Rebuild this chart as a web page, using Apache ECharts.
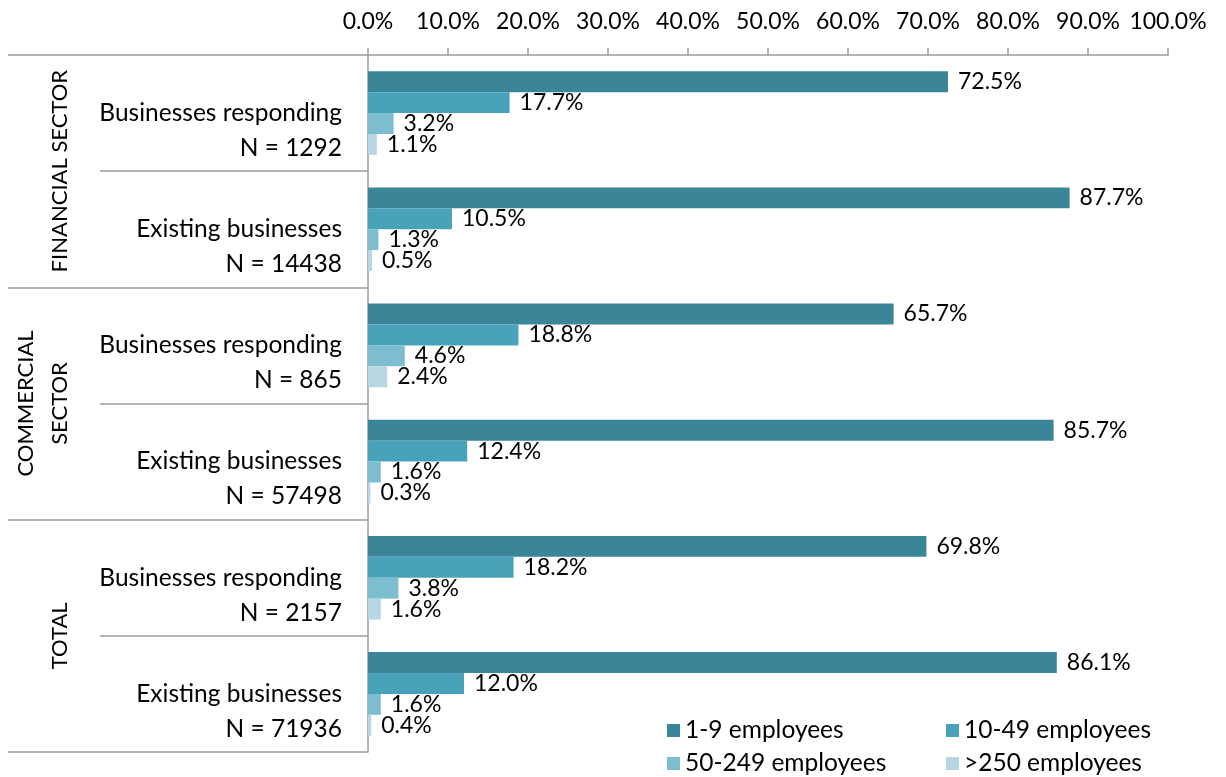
<!DOCTYPE html>
<html>
<head>
<meta charset="utf-8">
<title>Businesses by size class</title>
<script src="https://cdn.jsdelivr.net/npm/echarts@6/dist/echarts.min.js"></script>
<style>
  html, body { margin: 0; padding: 0; background: #fff; }
  #chart { width: 1226px; height: 777px; }
</style>
</head>
<body>
<div id="chart"></div>
<script>
// Row groups (outer level) and rows (inner level)
const sectors = ['FINANCIAL SECTOR', 'COMMERCIAL\nSECTOR', 'TOTAL'];
const rowNames = ['Businesses responding', 'Existing businesses',
                  'Businesses responding', 'Existing businesses',
                  'Businesses responding', 'Existing businesses'];
const rowN = [1292, 14438, 865, 57498, 2157, 71936];

// Share of businesses by size class, in percent
const seriesNames = ['1-9 employees', '10-49 employees', '50-249 employees', '>250 employees'];
const emp1to9    = [72.5, 87.7, 65.7, 85.7, 69.8, 86.1];
const emp10to49  = [17.7, 10.5, 18.8, 12.4, 18.2, 12.0];
const emp50to249 = [3.2, 1.3, 4.6, 1.6, 3.8, 1.6];
const emp250plus = [1.1, 0.5, 2.4, 0.3, 1.6, 0.4];

const colors = ['#3a8698', '#48a3ba', '#7dbdd0', '#b6d7e2'];
const FONT = 'Lato';
const FS_NUM = 23;   // percentages
const FS_TXT = 24.5; // row names and legend
const GRID = '#9c9c9c';

const rowLabels = rowNames.map((n, i) => n + '\nN = ' + rowN[i]);
const values = [emp1to9, emp10to49, emp50to249, emp250plus];

const legendStyle = {
  orient: 'vertical', top: 718, padding: 0,
  itemWidth: 13, itemHeight: 13, itemGap: 8, icon: 'rect',
  textStyle: { color: '#000', fontSize: FS_TXT, fontFamily: FONT }
};

const chart = echarts.init(document.getElementById('chart'));
chart.setOption({
  animation: false,
  textStyle: { fontFamily: FONT },
  grid: { left: 368, right: 58, top: 55, bottom: 25, containLabel: false },
  xAxis: {
    type: 'value', position: 'top', min: 0, max: 100, interval: 10,
    axisLine: { show: true, lineStyle: { color: GRID, width: 1.5 } },
    axisTick: { show: true, length: 7, lineStyle: { color: GRID, width: 1.5 } },
    splitLine: { show: false },
    axisLabel: { formatter: v => v.toFixed(1) + '%', color: '#000', fontSize: FS_NUM, fontFamily: FONT, margin: 22 }
  },
  yAxis: [
    {
      type: 'category', inverse: true, data: rowLabels,
      axisLine: { show: true, lineStyle: { color: GRID, width: 1.5 } },
      axisTick: { show: true, length: 268, lineStyle: { color: GRID, width: 1.5 } },
      axisLabel: {
        interval: 0, color: '#000', fontSize: FS_TXT, fontFamily: FONT, lineHeight: 35,
        align: 'right', verticalAlign: 'middle', margin: 26,
        // blank first line drops the name onto the row centre, N below it
        formatter: v => ' \n' + v
      }
    },
    {
      type: 'category', inverse: true, data: sectors, position: 'left',
      axisLine: { show: false },
      axisTick: { show: true, length: 360, lineStyle: { color: GRID, width: 1.5 } },
      axisLabel: {
        interval: 0, rotate: 90, color: '#000', fontSize: 22, fontFamily: FONT, lineHeight: 34,
        align: 'center', verticalAlign: 'bottom', margin: 291
      }
    }
  ],
  legend: [
    Object.assign({ data: [seriesNames[0], seriesNames[2]], left: 667 }, legendStyle),
    Object.assign({ data: [seriesNames[1], seriesNames[3]], left: 946 }, legendStyle)
  ],
  series: seriesNames.map((name, i) => ({
    name, type: 'bar', yAxisIndex: 0, data: values[i],
    barGap: '0%', barCategoryGap: '28%',
    itemStyle: { color: colors[i] },
    label: {
      show: true, position: 'right', distance: 10, color: '#000',
      fontSize: FS_NUM, fontFamily: FONT, formatter: p => p.value.toFixed(1) + '%'
    }
  }))
});
</script>
</body>
</html>
